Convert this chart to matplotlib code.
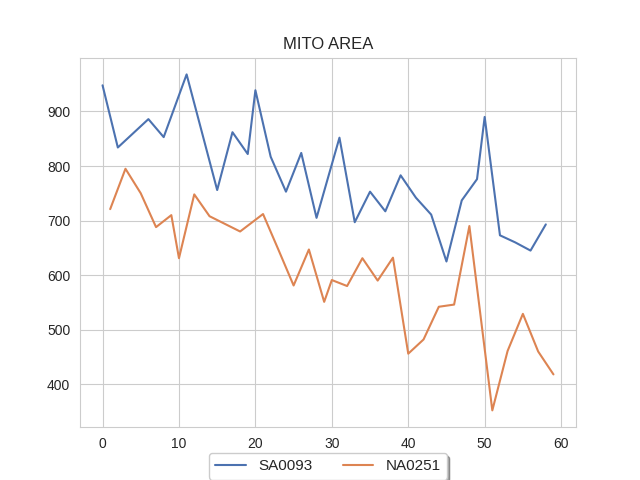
import matplotlib
matplotlib.use("Agg")
import matplotlib.pyplot as plt
import seaborn as sns

sns.set_style("whitegrid")
plt.rcParams['font.family'] = ['Liberation Sans', 'DejaVu Sans']

sa_x = [0, 2, 4, 6, 8, 11, 13, 15, 17, 19, 20, 22, 24, 26, 28, 31, 33, 35, 37, 39,
        41, 43, 45, 47, 49, 50, 52, 54, 56, 58]
sa_y = [948, 834, 860, 886, 853, 968, 862, 756, 862, 822, 939, 817, 753, 824, 705, 852, 697, 753, 717, 783,
        742, 711, 625, 737, 776, 890, 673, 660, 645, 693]

na_x = [1, 3, 5, 7, 9, 10, 12, 14, 16, 18, 21, 23, 25, 27, 29, 30, 32, 34, 36, 38,
        40, 42, 44, 46, 48, 51, 53, 55, 57, 59]
na_y = [721, 795, 750, 688, 710, 631, 748, 708, 694, 680, 712, 647, 581, 647, 551, 591, 580, 631, 590, 632,
        456, 482, 542, 546, 690, 352, 461, 529, 460, 418]

fig, ax = plt.subplots(figsize=(6.4, 4.8), dpi=100)
pal = sns.color_palette("deep")
ax.plot(sa_x, sa_y, color=pal[0], label="SA0093")
ax.plot(na_x, na_y, color=pal[1], label="NA0251")
ax.set_title("MITO AREA")
ax.legend(loc="upper center", bbox_to_anchor=(0.5, -0.05), ncol=2, fontsize=11,
          shadow=True, fancybox=True, frameon=True)
fig.savefig("out.png")
